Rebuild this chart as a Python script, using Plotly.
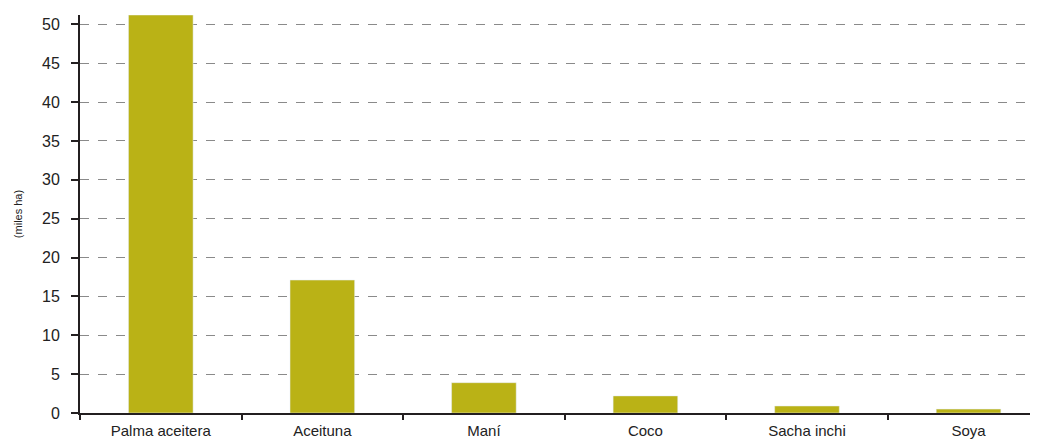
import plotly.graph_objects as go

categories = ["Palma aceitera", "Aceituna", "Maní", "Coco", "Sacha inchi", "Soya"]
values = [51.2, 17.1, 3.9, 2.2, 0.9, 0.5]
y_ticks = [0, 5, 10, 15, 20, 25, 30, 35, 40, 45, 50]

FONT = "Liberation Sans, Arial, sans-serif"

fig = go.Figure(go.Bar(x=categories, y=values, marker_color="#BAB216", width=0.40))

fig.update_layout(
    width=1038, height=441,
    margin=dict(l=72, r=8, t=7, b=36, autoexpand=False),
    plot_bgcolor="white", paper_bgcolor="white",
    font=dict(family=FONT, color="#222222", size=15),
    showlegend=False,
)
fig.update_xaxes(
    type="category", range=[-0.5, 5.43], automargin=False,
    showline=True, linecolor="#231f20", linewidth=2,
    ticks="outside", tickson="boundaries", ticklen=5, tickwidth=2, tickcolor="#231f20",
    ticklabelstandoff=3,
    showgrid=False, tickfont=dict(size=15),
)
fig.update_yaxes(
    range=[0, 51.2], tickvals=y_ticks, automargin=False,
    showline=True, linecolor="#231f20", linewidth=2,
    ticks="outside", ticklen=7, tickwidth=2, tickcolor="#231f20",
    ticklabelstandoff=8,
    showgrid=True, gridcolor="#8a8a8a", griddash="dash", gridwidth=1,
    zeroline=False, tickfont=dict(size=16),
    title=dict(text="(miles ha)", font=dict(size=11), standoff=17),
)
fig.write_html("out.html")
